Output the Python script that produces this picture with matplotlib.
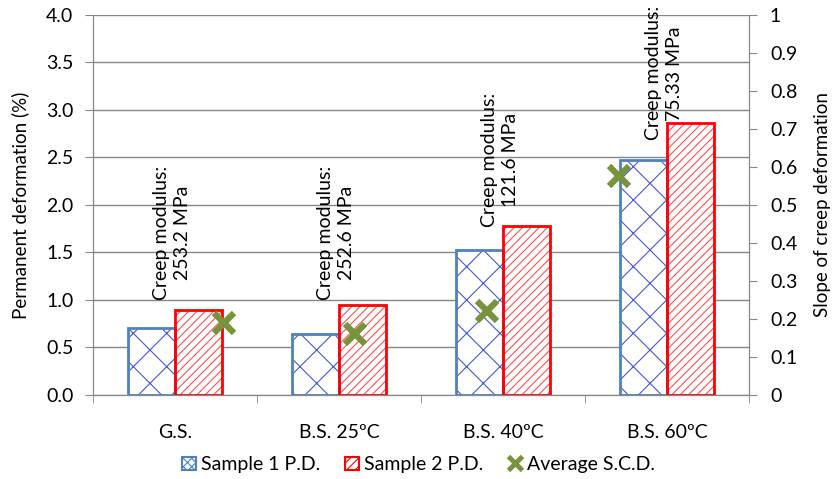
import numpy as np
import matplotlib
matplotlib.use("Agg")
import matplotlib.pyplot as plt
from matplotlib.patches import Patch
from matplotlib.lines import Line2D

plt.rcParams["font.family"] = ["Lato", "DejaVu Sans"]
plt.rcParams["hatch.linewidth"] = 0.8

categories = ["G.S.", "B.S. 25ºC", "B.S. 40ºC", "B.S. 60ºC"]
sample1 = [0.70, 0.645, 1.53, 2.47]
sample2 = [0.89, 0.95, 1.78, 2.86]
avg_scd = [0.19, 0.16, 0.22, 0.575]
avg_x = [0.30, 1.10, 1.90, 2.705]
labels = ["Creep modulus:\n253.2 MPa", "Creep modulus:\n252.6 MPa",
          "Creep modulus:\n121.6 MPa", "Creep modulus:\n75.33 MPa"]
label_y = [1.0, 1.0, 1.77, 2.68]

grey = "#868686"
fs = 14
fig = plt.figure(figsize=(8.37, 4.79), dpi=100)
ax = fig.add_axes([0.111, 0.1754, 0.784, 0.7933])
ax2 = ax.twinx()

x = np.arange(len(categories))
w = 0.287
# hatch layer first, then the outline on top
ax.bar(x - w / 2, sample1, w, facecolor="white", edgecolor="#4458D8", hatch="x", lw=0, zorder=2)
ax.bar(x - w / 2, sample1, w, facecolor="none", edgecolor="#4F81BD", lw=2, zorder=3)
ax.bar(x + w / 2, sample2, w, facecolor="white", edgecolor="#FF5050", hatch="////", lw=0, zorder=2)
ax.bar(x + w / 2, sample2, w, facecolor="none", edgecolor="#FF0000", lw=2, zorder=3)

for xi, yi, t in zip(x, label_y, labels):
    ax.text(xi - 0.02, yi, t, rotation=90, ha="center", va="bottom", multialignment="center",
            fontsize=fs, linespacing=1.3, zorder=5)

ax.set_xlim(-0.5, 3.5)
ax.set_ylim(0, 4.0)
ticks = np.arange(0, 4.01, 0.5)
ax.set_yticks(ticks)
ax.set_yticklabels([f"{v:.1f}" for v in ticks], fontsize=fs)
ax.yaxis.grid(True, color=grey, lw=1)
ax.set_axisbelow(True)
ax.set_xticks(x)
ax.set_xticklabels(categories, fontsize=fs)
ax.set_xticks(np.arange(-0.5, 3.6, 1), minor=True)
ax.tick_params(axis="x", which="major", length=0, pad=21)
ax.tick_params(axis="x", which="minor", length=6, color=grey)
ax.tick_params(axis="y", length=6, color=grey, pad=8)
ax.set_ylabel("Permanent deformation (%)", fontsize=13.5, labelpad=12)

ax2.plot(avg_x, avg_scd, ls="none", marker="x", color="#77933C", ms=14, mew=4.5, zorder=6)
ax2.set_ylim(0, 1)
ax2.set_yticks(np.arange(0, 1.01, 0.1))
ax2.set_yticklabels(["0"] + [f"{v:.1f}" for v in np.arange(0.1, 0.95, 0.1)] + ["1"], fontsize=fs)
ax2.tick_params(axis="y", length=6, color=grey, pad=9)
ax2.set_ylabel("Slope of creep deformation", fontsize=13.5, labelpad=12)

for a in (ax, ax2):
    for s in a.spines.values():
        s.set_color(grey)
    a.spines["top"].set_visible(False)

handles = [Patch(facecolor="white", edgecolor="#4F81BD", hatch="xxxx", lw=1.5),
           Patch(facecolor="white", edgecolor="#FF0000", hatch="////", lw=1.5),
           Line2D([], [], ls="none", marker="x", color="#77933C", ms=10, mew=3.5)]
fig.legend(handles, ["Sample 1 P.D.", "Sample 2 P.D.", "Average S.C.D."], loc="center",
           bbox_to_anchor=(0.5, 0.03), ncol=3, frameon=False, fontsize=fs,
           handlelength=0.7, handleheight=0.7, handletextpad=0.25, columnspacing=1.3)

fig.savefig("out.png", dpi=100)
